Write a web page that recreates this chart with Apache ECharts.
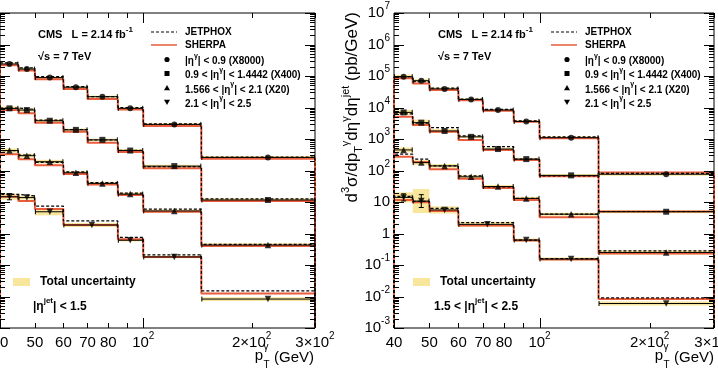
<!DOCTYPE html>
<html><head><meta charset="utf-8">
<script src="https://cdn.jsdelivr.net/npm/echarts@6/dist/echarts.min.js"></script>
<style>html,body{margin:0;padding:0;background:#fff}#c{width:718px;height:370px}</style>
</head><body><div id="c"></div>
<script>
// ---------------- data ----------------
const binEdges    = [40,45,50,60,70,85,100,145,300];
const binEdgesLow = [40,45,50,60,85,100,145,300];          // 2.1<|eta|<2.5 uses merged 60-85 bin
const ptX    = [42.5,47.5,55,65,77,92,122,222];
const ptXLow = [42.5,47.5,55,72,92,122,222];

const xTickMajor = [100];
const xTickMinor = [40,50,60,70,80,90,200,300];
const xTickLabels = [[40,'40'],[50,'50'],[60,'60'],[70,'70'],[80,'80'],[100,'10{s|2}'],[200,'2×10{s|2}'],[300,'3×10{s|2}']];
const yTickValues = [1e-3,1e-2,1e-1,1,10,1e2,1e3,1e4,1e5,1e6,1e7];
const yTickLabels = ['10{s|-3}','10{s|-2}','10{s|-1}','1','10','10{s|2}','10{s|3}','10{s|4}','10{s|5}','10{s|6}','10{s|7}'];

// left panel: |eta_jet| < 1.5
const L_data1 = [2.4e5,1.66e5,8.9e4,4.4e4,2.2e4,9.4e3,2.9e3,260];
const L_jet1  = [2.6e5,1.8e5,9.5e4,4.6e4,2.2e4,1.0e4,3.0e3,264];
const L_sh1   = [2.2e5,1.5e5,7.9e4,3.9e4,1.86e4,8.7e3,2.6e3,234];
const L_data2 = [9.4e3,8.3e3,3.8e3,1.95e3,940,430,138,11.6];
const L_jet2  = [9.6e3,8.7e3,4.0e3,2.0e3,930,440,132,12.5];
const L_sh2   = [8.3e3,6.6e3,3.3e3,1.7e3,760,390,118,10.7];
const L_data3 = [430,295,190,85,39,17.8,5.2,0.43];
const L_jet3  = [430,310,180,91,41,19,5.9,0.45];
const L_sh3   = [330,228,148,78,36,16.6,4.9,0.40];
const L_data4 = [14.7,13.8,4.9,1.86,0.61,0.18,0.0083];
const L_jet4  = [17.5,15.5,7.4,2.5,0.75,0.21,0.015];
const L_sh4   = [14.7,10.7,6.0,1.86,0.66,0.18,0.0125];
// total uncertainty (multiplicative factor) and error bar factor
const L_band1 = [1.12,1.1,1.08,1.08,1.08,1.08,1.1,1.12];
const L_band2 = [1.15,1.12,1.1,1.1,1.1,1.1,1.1,1.12];
const L_band3 = [1.18,1.15,1.15,1.12,1.12,1.12,1.12,1.15];
const L_band4 = [1.25,1.15,1.3,1.15,1.1,1.1,1.15];
const L_err4  = [1.25,1.15,1.2,1.08,1.06,1.06,1.1];

// right panel: 1.5 < |eta_jet| < 2.5
const R_data1 = [9.5e4,7.1e4,3.9e4,1.8e4,8.3e3,3.6e3,1.1e3,76];
const R_jet1  = [9.5e4,6.6e4,4.1e4,1.86e4,8.7e3,3.8e3,1.17e3,81];
const R_sh1   = [8.5e4,5.8e4,3.6e4,1.7e4,7.9e3,3.5e3,1.05e3,87];
const R_data2 = [7.0e3,3.3e3,1.8e3,1.17e3,480,230,70,4.9];
const R_jet2  = [6.3e3,3.2e3,2.3e3,1.25e3,570,230,67,5.0];
const R_sh2   = [5.1e3,2.8e3,1.7e3,930,450,215,66,5.0];
const R_data3 = [450,178,140,63,31,13,4.1,0.25];
const R_jet3  = [330,230,140,68,30,13,4.1,0.28];
const R_sh3   = [275,185,110,55,28,11.5,3.3,0.23];
const R_data4 = [14,10.7,5.6,1.95,0.62,0.155,0.006];
const R_jet4  = [15,10.5,6.3,2.2,0.62,0.16,0.0091];
const R_sh4   = [11.5,9.8,5.2,1.8,0.60,0.15,0.0083];
const R_band1 = [1.15,1.12,1.1,1.08,1.08,1.08,1.1,1.12];
const R_band2 = [1.2,1.25,1.15,1.1,1.1,1.1,1.1,1.12];
const R_band3 = [1.2,1.2,1.15,1.12,1.12,1.12,1.12,1.15];
const R_band4 = [1.45,2.4,1.3,1.2,1.12,1.12,1.15];
const R_err4  = [1.3,1.6,1.18,1.08,1.06,1.06,1.1];
const errSmall = [1.04,1.04,1.04,1.04,1.04,1.04,1.04,1.04];

// ---------------- style ----------------
const FONT = '"Liberation Sans", Arial, Helvetica, sans-serif';
const BAND = '#f8e69c';
const RED = '#e95c3c';
const Y_MIN = 1e-3, Y_MAX = 1e7;
const symbols = ['circle','rect','triangle','triangle'];
const symRot = [0,0,0,180];
const symSize = [6,6,6.5,6.5];

const panels = [
  {edges:[binEdges,binEdges,binEdges,binEdgesLow], px:[ptX,ptX,ptX,ptXLow],
   data:[L_data1,L_data2,L_data3,L_data4], jet:[L_jet1,L_jet2,L_jet3,L_jet4], sh:[L_sh1,L_sh2,L_sh3,L_sh4],
   band:[L_band1,L_band2,L_band3,L_band4], err:[errSmall,errSmall,errSmall,L_err4], yLabels:false},
  {edges:[binEdges,binEdges,binEdges,binEdgesLow], px:[ptX,ptX,ptX,ptXLow],
   data:[R_data1,R_data2,R_data3,R_data4], jet:[R_jet1,R_jet2,R_jet3,R_jet4], sh:[R_sh1,R_sh2,R_sh3,R_sh4],
   band:[R_band1,R_band2,R_band3,R_band4], err:[errSmall,errSmall,errSmall,R_err4], yLabels:true}
];

function stepPath(edges, vals){
  const d=[[edges[0], Y_MIN]];
  for(let i=0;i<vals.length;i++){ d.push([edges[i], vals[i]]); d.push([edges[i+1], vals[i]]); }
  d.push([edges[edges.length-1], Y_MIN]);
  return d;
}

const grid = [
  {left:-6, top:13, width:321, height:315, show:true, borderColor:'#000', borderWidth:1, backgroundColor:'transparent', z:0},
  {left:394, top:13, width:320, height:315, show:true, borderColor:'#000', borderWidth:1, backgroundColor:'transparent', z:0}
];
const xAxis = [0,1].map(i=>({type:'log', logBase:10, min:40, max:300, gridIndex:i,
  axisLine:{show:false}, axisTick:{show:false}, axisLabel:{show:false}, splitLine:{show:false}}));
const yAxis = [0,1].map(i=>({type:'log', logBase:10, min:Y_MIN, max:Y_MAX, gridIndex:i,
  axisLine:{show:false}, axisTick:{show:false}, axisLabel:{show:false}, splitLine:{show:false}}));

const series = [];
panels.forEach((P, pi) => {
  // uncertainty bands
  const bandData = [];
  for(let k=0;k<4;k++){
    P.data[k].forEach((v,i)=>{ bandData.push([P.edges[k][i], P.edges[k][i+1], v/P.band[k][i], v*P.band[k][i]]); });
  }
  series.push({type:'custom', xAxisIndex:pi, yAxisIndex:pi, z:1, silent:true, data:bandData,
    encode:{x:[0,1], y:[2,3]},
    renderItem:(params, api)=>{
      const a = api.coord([api.value(0), api.value(3)]);
      const b = api.coord([api.value(1), api.value(2)]);
      return {type:'rect', shape:{x:a[0], y:a[1], width:b[0]-a[0], height:b[1]-a[1]}, style:{fill:BAND}};
    }});
  // SHERPA
  for(let k=0;k<4;k++){
    series.push({type:'line', xAxisIndex:pi, yAxisIndex:pi, z:2, silent:true, showSymbol:false, symbol:'none',
      data:stepPath(P.edges[k], P.sh[k]), lineStyle:{color:RED, width:2}, animation:false});
  }
  // JETPHOX
  for(let k=0;k<4;k++){
    series.push({type:'line', xAxisIndex:pi, yAxisIndex:pi, z:3, silent:true, showSymbol:false, symbol:'none',
      data:stepPath(P.edges[k], P.jet[k]), lineStyle:{color:'#000', width:1.2, type:[3,2]}, animation:false});
  }
  // error bars
  const errData = [];
  for(let k=0;k<4;k++){
    P.data[k].forEach((v,i)=>{ errData.push([P.edges[k][i], P.edges[k][i+1], P.px[k][i], v, P.err[k][i]]); });
  }
  series.push({type:'custom', xAxisIndex:pi, yAxisIndex:pi, z:4, silent:true, data:errData,
    encode:{x:[0,1,2], y:[3]},
    renderItem:(params, api)=>{
      const x0=api.value(0), x1=api.value(1), xc=api.value(2), v=api.value(3), e=api.value(4);
      const p0=api.coord([x0,v]), p1=api.coord([x1,v]);
      const lo=api.coord([xc,v/e]), hi=api.coord([xc,v*e]);
      const st={stroke:'#000', lineWidth:1};
      const ch=[
        {type:'line', shape:{x1:p0[0]+0.5, y1:p0[1], x2:p1[0]-0.5, y2:p1[1]}, style:st},
        {type:'line', shape:{x1:p0[0]+0.5, y1:p0[1]-2.5, x2:p0[0]+0.5, y2:p0[1]+2.5}, style:st},
        {type:'line', shape:{x1:p1[0]-0.5, y1:p1[1]-2.5, x2:p1[0]-0.5, y2:p1[1]+2.5}, style:st}
      ];
      if(lo[1]-hi[1] > 6){
        ch.push({type:'line', shape:{x1:lo[0], y1:lo[1], x2:hi[0], y2:hi[1]}, style:st});
        ch.push({type:'line', shape:{x1:lo[0]-2.5, y1:lo[1], x2:lo[0]+2.5, y2:lo[1]}, style:st});
        ch.push({type:'line', shape:{x1:hi[0]-2.5, y1:hi[1], x2:hi[0]+2.5, y2:hi[1]}, style:st});
      }
      return {type:'group', children:ch};
    }});
  // data markers
  for(let k=0;k<4;k++){
    series.push({type:'scatter', xAxisIndex:pi, yAxisIndex:pi, z:5, silent:true,
      symbol:symbols[k], symbolRotate:symRot[k], symbolSize:symSize[k],
      itemStyle:{color:'#000'}, data:P.data[k].map((v,i)=>[P.px[k][i], v]), animation:false});
  }
  // axis ticks and labels
  series.push({type:'custom', xAxisIndex:pi, yAxisIndex:pi, z:6, silent:true, clip:false, data:[[100,1]],
    renderItem:(params, api)=>{
      const ch=[]; const st={stroke:'#000', lineWidth:1};
      const tickX=(v,len)=>{
        const b=api.coord([v,Y_MIN]), t=api.coord([v,Y_MAX]);
        const x=Math.round(b[0])+0.5;
        ch.push({type:'line', shape:{x1:x,y1:b[1],x2:x,y2:b[1]-len}, style:st});
        ch.push({type:'line', shape:{x1:x,y1:t[1],x2:x,y2:t[1]+len}, style:st});
      };
      xTickMajor.forEach(v=>tickX(v,10));
      xTickMinor.forEach(v=>tickX(v,5));
      const tickY=(v,len)=>{
        const l=api.coord([40,v]), r=api.coord([300,v]);
        const y=Math.round(l[1])+0.5;
        ch.push({type:'line', shape:{x1:l[0],y1:y,x2:l[0]+len,y2:y}, style:st});
        ch.push({type:'line', shape:{x1:r[0],y1:y,x2:r[0]-len,y2:y}, style:st});
      };
      yTickValues.forEach(v=>tickY(v,10));
      for(let d=-3; d<7; d++){ for(let m=2;m<=9;m++){ tickY(m*Math.pow(10,d),5); } }
      const rich={m:{fontSize:15, fontFamily:FONT, fill:'#000', verticalAlign:'bottom', lineHeight:19},
                  s:{fontSize:10, fontFamily:FONT, fill:'#000', verticalAlign:'top', lineHeight:10}};
      xTickLabels.forEach(([v,t])=>{
        const p=api.coord([v,Y_MIN]);
        const txt=t.replace(/^([^{]+)/,'{m|$1}');
        ch.push({type:'text', style:{text:txt, x:p[0], y:p[1]+13, align:'center', verticalAlign:'middle', rich:rich, fill:'#000'}});
      });
      if(P.yLabels){
        yTickValues.forEach((v,i)=>{
          const p=api.coord([40,v]);
          const txt=yTickLabels[i].replace(/^([^{]+)/,'{m|$1}');
          ch.push({type:'text', style:{text:txt, x:p[0]-4, y:p[1]-2, align:'right', verticalAlign:'middle', rich:rich, fill:'#000'}});
        });
      }
      return {type:'group', children:ch};
    }});
});

// ---------------- legend / annotations (graphic) ----------------
const supRich = (fs)=>({
  b:{fontSize:fs, fontFamily:FONT, fontWeight:'bold', fill:'#000', verticalAlign:'bottom', lineHeight:fs+4},
  s:{fontSize:Math.round(fs*0.7), fontFamily:FONT, fontWeight:'bold', fill:'#000', verticalAlign:'top', lineHeight:Math.round(fs*0.7)}
});
const legendRows = [
  '{b||η}{s|γ}{b|| < 0.9 (X8000)}',
  '{b|0.9 < |η}{s|γ}{b|| < 1.4442 (X400)}',
  '{b|1.566 < |η}{s|γ}{b|| < 2.1 (X20)}',
  '{b|2.1 < |η}{s|γ}{b|| < 2.5}'
];
const etaJetText = ['{b||η}{s|jet}{b|| < 1.5}', '{b|1.5 < |η}{s|jet}{b|| < 2.5}'];
const graphic = [];
[ -400, 0 ].forEach((dx, pi)=>{
  graphic.push({type:'text', x:438+dx, y:33, style:{text:'{b|CMS   L = 2.14 fb}{s|-1}', rich:supRich(11), verticalAlign:'middle'}});
  graphic.push({type:'text', x:438+dx, y:55, style:{text:'{b|√s = 7 TeV}', rich:supRich(11), verticalAlign:'middle'}});
  graphic.push({type:'line', shape:{x1:551+dx, y1:32, x2:577+dx, y2:32}, style:{stroke:'#000', lineWidth:1.2, lineDash:[3,2]}});
  graphic.push({type:'text', x:585+dx, y:32, style:{text:'JETPHOX', font:'bold 10px '+FONT, fill:'#000', verticalAlign:'middle'}});
  graphic.push({type:'line', shape:{x1:551+dx, y1:45, x2:577+dx, y2:45}, style:{stroke:RED, lineWidth:1.5}});
  graphic.push({type:'text', x:585+dx, y:45, style:{text:'SHERPA', font:'bold 10px '+FONT, fill:'#000', verticalAlign:'middle'}});
  const ys=[59.5,73.5,88,102];
  const mx=567+dx;
  graphic.push({type:'circle', shape:{cx:mx, cy:ys[0], r:2.6}, style:{fill:'#000'}});
  graphic.push({type:'rect', shape:{x:mx-2.5, y:ys[1]-2.5, width:5, height:5}, style:{fill:'#000'}});
  graphic.push({type:'polygon', shape:{points:[[mx,ys[2]-3],[mx-3,ys[2]+2.2],[mx+3,ys[2]+2.2]]}, style:{fill:'#000'}});
  graphic.push({type:'polygon', shape:{points:[[mx,ys[3]+3],[mx-3,ys[3]-2.2],[mx+3,ys[3]-2.2]]}, style:{fill:'#000'}});
  legendRows.forEach((t,i)=>graphic.push({type:'text', x:585+dx, y:ys[i], style:{text:t, rich:supRich(10), verticalAlign:'middle'}}));
  graphic.push({type:'rect', shape:{x:413+dx, y:278, width:17, height:8}, style:{fill:BAND}});
  graphic.push({type:'text', x:440+dx, y:282, style:{text:'Total uncertainty', font:'bold 12px '+FONT, fill:'#000', verticalAlign:'middle'}});
  graphic.push({type:'text', x:(pi===0?33:434), y:305, style:{text:etaJetText[pi], rich:supRich(12), verticalAlign:'middle'}});
  // x-axis title
  const rx = 714+dx;
  graphic.push({type:'text', x:rx, y:358, style:{text:'(GeV)', font:'15px '+FONT, fill:'#000', align:'right', verticalAlign:'middle'}});
  graphic.push({type:'text', x:rx-51, y:356, style:{text:'p', font:'15px '+FONT, fill:'#000', align:'right', verticalAlign:'middle'}});
  graphic.push({type:'text', x:rx-50.5, y:347, style:{text:'γ', font:'10px '+FONT, fill:'#000', align:'left', verticalAlign:'middle'}});
  graphic.push({type:'text', x:rx-50.5, y:365, style:{text:'T', font:'10px '+FONT, fill:'#000', align:'left', verticalAlign:'middle'}});
});
// y-axis title (right panel)
graphic.push({type:'text', x:352, y:12, rotation:Math.PI/2, style:{
  text:'{m|d}{s|3}{m|σ/dp}{u|T}{s|γ}{m|dη}{s|γ}{m|dη}{s|jet}{m| (pb/GeV)}',
  align:'right', verticalAlign:'middle',
  rich:{m:{fontSize:17, fontFamily:FONT, fill:'#000', verticalAlign:'middle', lineHeight:24},
        s:{fontSize:11, fontFamily:FONT, fill:'#000', verticalAlign:'top', lineHeight:11},
        u:{fontSize:11, fontFamily:FONT, fill:'#000', verticalAlign:'bottom', lineHeight:11}}}});

const chart = echarts.init(document.getElementById('c'), null, {renderer:'canvas', width:718, height:370});
chart.setOption({animation:false, backgroundColor:'#fff', grid, xAxis, yAxis, series, graphic});
</script></body></html>
